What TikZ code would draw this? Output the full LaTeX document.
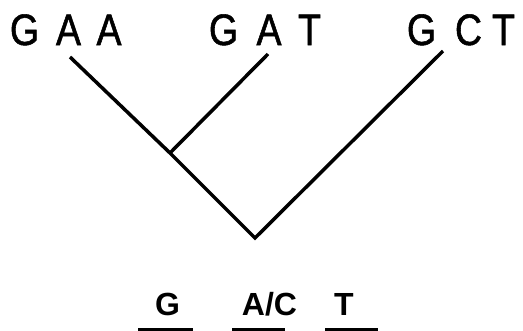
\documentclass[tikz,border=0pt]{standalone}
\usepackage{fontspec}
\setmainfont{Liberation Sans}
\newfontfamily\topf[FakeStretch=0.85,FakeBold=1.2]{Liberation Sans}
\begin{document}
\begin{tikzpicture}[x=1pt,y=-1pt,
  toplet/.style={inner sep=0pt,anchor=base,font=\topf\fontsize{44}{44}\selectfont},
  botlet/.style={inner sep=0pt,anchor=base,font=\fontsize{32}{32}\selectfont\bfseries},
  branch/.style={line width=3.5pt},
  uline/.style={line width=3pt}]
\useasboundingbox (0,0) rectangle (523,330);
% top labels
\node[toplet] (g1) at (24.5,45) {G};
\node[toplet] (a1) at (68.5,45) {A};
\node[toplet] (a2) at (109,45) {A};
\node[toplet] (g2) at (223.5,45) {G};
\node[toplet] (a3) at (269,45) {A};
\node[toplet] (t2) at (309.5,45) {T};
\node[toplet] (g3) at (421.5,45) {G};
\node[toplet] (c3) at (468.5,45) {C};
\node[toplet] (t3) at (503.5,45) {T};
% tree
\coordinate (l1) at (70,57);
\coordinate (l2) at (268,54);
\coordinate (l3) at (443,51);
\coordinate (j) at (170,153);
\coordinate (r) at (255,238);
\draw[branch] (l1) -- (j) -- (r) -- (l3);
\draw[branch] (l2) -- (j);
% bottom labels
\node[botlet] (bg) at (167.5,315) {G};
\node[botlet] (bac) at (269.5,315) {A/C};
\node[botlet] (bt) at (344,315) {T};
\coordinate (u1a) at (138,329); \coordinate (u1b) at (193,329);
\coordinate (u2a) at (232,329); \coordinate (u2b) at (285,329);
\coordinate (u3a) at (325,329); \coordinate (u3b) at (378,329);
\draw[uline] (u1a) -- (u1b);
\draw[uline] (u2a) -- (u2b);
\draw[uline] (u3a) -- (u3b);
\end{tikzpicture}
\end{document}
